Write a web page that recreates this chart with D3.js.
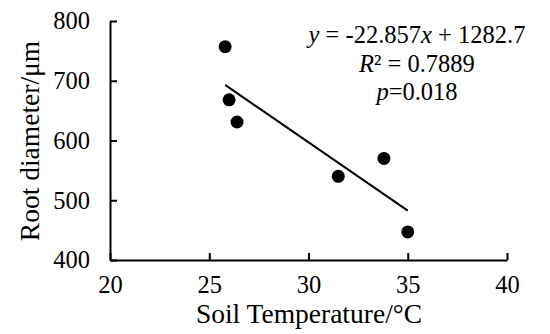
<!DOCTYPE html>
<html>
<head>
<meta charset="utf-8">
<script src="https://cdn.jsdelivr.net/npm/d3@7"></script>
<style>
  body { margin: 0; background: #fff; }
  svg { display: block; font-family: 'Liberation Serif', 'Times New Roman', serif; }
</style>
</head>
<body>
<svg id="chart" width="550" height="334"></svg>
<script>
// measured values
var soilTemp = [25.8, 26.0, 26.4, 31.5, 33.8, 35.0];
var rootDiameter = [757, 668, 631, 540, 570, 447];
var trendX = [25.8, 35.0];
var trendY = [693, 482.7];
var xTicks = [20, 25, 30, 35, 40];
var yTicks = [400, 500, 600, 700, 800];
var annotation = ['y = -22.857x + 1282.7', 'R² = 0.7889', 'p=0.018'];

var svg = d3.select('#chart'),
	margin = { top: 21, right: 43, bottom: 74, left: 110 },
	width = 550 - margin.left - margin.right,
	height = 334 - margin.top - margin.bottom,
	g = svg.append('g').attr('transform', 'translate(' + margin.left + ',' + margin.top + ')');

var scaleX = d3.scaleLinear().domain([20, 40]).range([0, width]);
var scaleY = d3.scaleLinear().domain([400, 800]).range([height, 0]);

var xAxis = d3.axisBottom(scaleX).tickValues(xTicks).tickSize(-7).tickPadding(16).tickSizeOuter(0);
var yAxis = d3.axisLeft(scaleY).tickValues(yTicks).tickSize(-7).tickPadding(20).tickSizeOuter(0);

var gx = g.append('g').attr('transform', 'translate(0,' + height + ')').call(xAxis);
var gy = g.append('g').call(yAxis);

[gx, gy].forEach(function(a) {
	a.selectAll('path, line').attr('stroke', '#000').attr('stroke-width', 2);
	a.selectAll('text').attr('fill', '#000').style('font-size', '24.5px')
		.style('font-family', "'Liberation Serif', serif");
});
gx.selectAll('text').attr('dy', '0.71em');

// trend line
g.append('line')
	.attr('x1', scaleX(trendX[0])).attr('y1', scaleY(trendY[0]))
	.attr('x2', scaleX(trendX[1])).attr('y2', scaleY(trendY[1]))
	.attr('stroke', '#000').attr('stroke-width', 2);

// points
g.selectAll('circle.pt').data(soilTemp).enter().append('circle')
	.attr('class', 'pt')
	.attr('cx', function(d) { return scaleX(d); })
	.attr('cy', function(d, i) { return scaleY(rootDiameter[i]); })
	.attr('r', 6.5)
	.attr('fill', '#000');

// equation text
var ann = svg.append('text').attr('text-anchor', 'middle').style('font-size', '24.5px').attr('fill', '#000');
var l1 = ann.append('tspan').attr('x', 417).attr('y', 43);
l1.append('tspan').style('font-style', 'italic').text('y');
l1.append('tspan').text(' = -22.857');
l1.append('tspan').style('font-style', 'italic').text('x');
l1.append('tspan').text(' + 1282.7');
var l2 = ann.append('tspan').attr('x', 417).attr('y', 72);
l2.append('tspan').style('font-style', 'italic').text('R');
l2.append('tspan').text(annotation[1].slice(1));
var l3 = ann.append('tspan').attr('x', 417).attr('y', 100);
l3.append('tspan').style('font-style', 'italic').text('p');
l3.append('tspan').text(annotation[2].slice(1));

// axis titles
svg.append('text').attr('x', 309).attr('y', 323).attr('text-anchor', 'middle')
	.style('font-size', '27.5px').attr('fill', '#000').text('Soil Temperature/°C');
svg.append('text').attr('transform', 'translate(39,141) rotate(-90)').attr('text-anchor', 'middle')
	.style('font-size', '27.5px').attr('fill', '#000').text('Root diameter/μm');
</script>
</body>
</html>
